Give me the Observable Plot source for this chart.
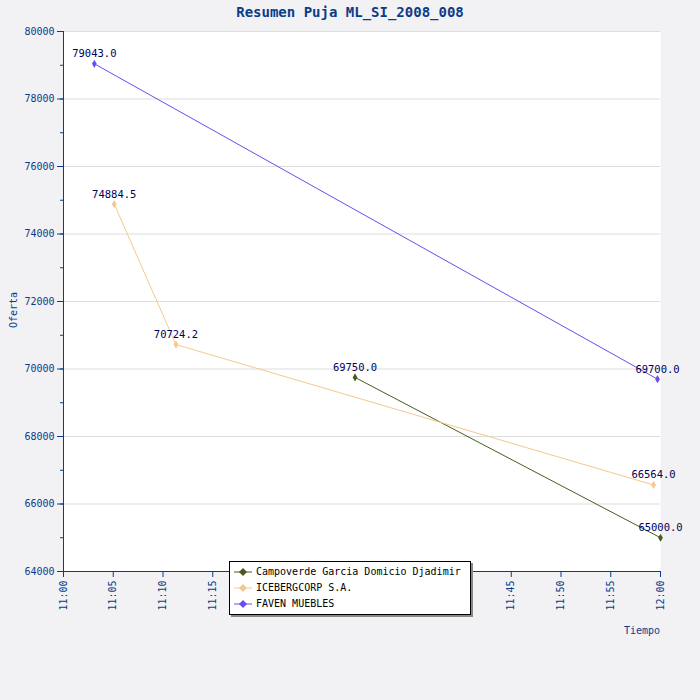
<!DOCTYPE html>
<html><head><meta charset="utf-8">
<script src="https://cdn.jsdelivr.net/npm/d3@7"></script>
<script src="https://cdn.jsdelivr.net/npm/@observablehq/plot@0.6"></script>
<style>
body{margin:0;background:#f2f2f4;font-family:"DejaVu Sans Mono",monospace;}
#wrap{position:relative;width:700px;height:700px;}
#title{position:absolute;top:4px;left:0;width:700px;text-align:center;color:#0a3c8c;font-weight:bold;font-size:14px;}
#legend{position:absolute;left:229px;top:561px;width:240px;background:#fff;border:1px solid #000;box-shadow:2px 2px 0 #888;font-size:10px;padding:2px 0;white-space:nowrap;overflow:hidden;}
#legend div{height:16px;line-height:16px;display:flex;align-items:center;}
#legend svg{margin:0 4px 0 4px;flex:none;}
#plot{position:absolute;top:24px;left:0;}
</style></head><body>
<div id="wrap"><div id="title">Resumen Puja ML_SI_2008_008</div><div id="plot"></div><div id="legend"></div></div>
<script>
const seriesNames=["Campoverde Garcia Domicio Djadimir","ICEBERGCORP S.A.","FAVEN MUEBLES"];
const colors=["#4a5a1e","#f5c890","#6a4cf0"];
const campoMin=[29.3,60.0], campoVal=[69750.0,65000.0];
const iceMin=[5.1,11.3,59.3], iceVal=[74884.5,70724.2,66564.0];
const favenMin=[3.1,59.7], favenVal=[79043.0,69700.0];
const xTicks=[0,5,10,15,20,25,30,35,40,45,50,55,60];
const yTicks=[64000,66000,68000,70000,72000,74000,76000,78000,80000];
const data=[];
[[campoMin,campoVal],[iceMin,iceVal],[favenMin,favenVal]].forEach(([m,v],i)=>m.forEach((t,j)=>data.push({s:seriesNames[i],t,v:v[j]})));
const fmt=t=>{const h=11+Math.floor(t/60),mm=t%60;return h+":"+String(mm).padStart(2,"0");};
const pl=Plot.plot({width:700,height:676,marginTop:7,marginBottom:129,marginLeft:63,marginRight:40,
 style:{background:"transparent",fontFamily:"DejaVu Sans Mono, monospace",fontSize:"10px",color:"#0a3c8c"},
 x:{domain:[0,60],label:null},
 y:{domain:[64000,80000],label:null},
 color:{domain:seriesNames,range:colors},
 marks:[
  Plot.frame({fill:"white",stroke:null}),
  Plot.gridY(yTicks,{stroke:"#ddd",strokeOpacity:1}),
  Plot.axisY({ticks:d3.range(64000,80001,1000),tickFormat:()=>"",tickSize:3,stroke:"#0a3c8c"}),
  Plot.axisY({ticks:yTicks,tickFormat:d=>String(d),tickSize:6,stroke:"#0a3c8c",fill:"#0a3c8c",label:null}),
  Plot.axisX({ticks:xTicks,tickFormat:fmt,tickRotate:-90,stroke:"#0a3c8c",fill:"#0a3c8c",label:null,tickSize:6}),
  Plot.ruleY([64000],{stroke:"#0a3c8c"}),Plot.ruleX([0],{stroke:"#0a3c8c"}),
  Plot.line(data,{x:"t",y:"v",stroke:"s",z:"s",strokeWidth:1}),
  Plot.dot(data,{x:"t",y:"v",fill:"s",symbol:"diamond",r:2.5}),
  Plot.text(data,{x:"t",y:"v",text:d=>d.v.toFixed(1),dy:-10,fill:"#00005a",fontSize:10.5}),
 ]});
document.getElementById("plot").appendChild(pl);
const svg=d3.select(pl);
svg.append("text").attr("x",642).attr("y",610).attr("text-anchor","middle").attr("fill","#0a3c8c").attr("font-size",10).text("Tiempo");
svg.append("text").attr("transform","translate(17,286) rotate(-90)").attr("text-anchor","middle").attr("fill","#0a3c8c").attr("font-size",10).text("Oferta");
const lg=d3.select("#legend");
seriesNames.forEach((n,i)=>{const r=lg.append("div");const s=r.append("svg").attr("width",18).attr("height",10);
 s.append("line").attr("x1",0).attr("x2",18).attr("y1",5).attr("y2",5).attr("stroke",colors[i]);
 s.append("path").attr("d","M9,1L13,5L9,9L5,5Z").attr("fill",colors[i]);r.append("span").text(n);});
</script></body></html>
